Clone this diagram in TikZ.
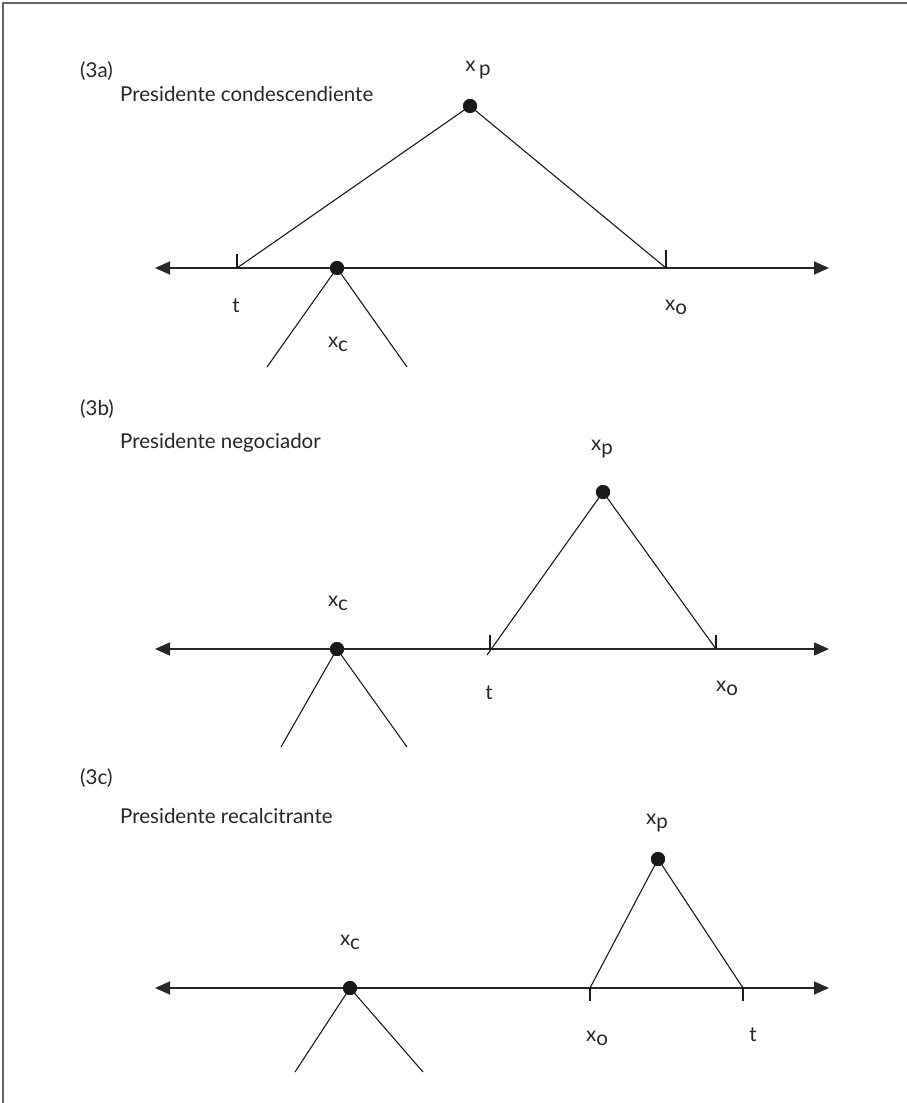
\documentclass[tikz,border=0pt]{standalone}
\usepackage{fontspec}
\setmainfont{Lato}
\usetikzlibrary{arrows.meta}
\tikzset{
  axisline/.style={line width=1.3pt, black!85, {Triangle[length=15pt,width=13pt]}-{Triangle[length=15pt,width=13pt]}},
  leg/.style={line width=1.1pt, black!90},
  tickmark/.style={line width=1.1pt, black!90},
  dot/.style={circle, fill=black!90, inner sep=0pt, minimum size=14pt},
  lbl/.style={font=\fontsize{20.5}{24}\selectfont, text=black!85, inner sep=0pt},
  frameline/.style={line width=1.3pt, black!60}
}
\newcommand{\sub}[1]{\raisebox{-0.4ex}{#1}}
\begin{document}
\begin{tikzpicture}[x=1pt,y=-1pt]
\useasboundingbox (0,0) rectangle (907,1103);
\draw[frameline] (3,1103) -- (3,3) -- (907,3);

% ---------- panel a ----------
\node[lbl, anchor=west] (la) at (80,71) {(3a)};
\node[lbl, anchor=west] (ta) at (120,94) {Presidente condescendiente};
\coordinate (aL) at (155,268);
\coordinate (aR) at (829,268);
\coordinate (at) at (237,268);
\coordinate (ao) at (666,268);
\coordinate (atT) at (237,254);
\coordinate (aoT) at (666,250);
\coordinate (acL) at (267,367);
\coordinate (acR) at (407,367);
\draw[axisline] (aL) -- (aR);
\draw[tickmark] (at) -- (atT);
\draw[tickmark] (ao) -- (aoT);
\node[dot] (ap) at (470,106) {};
\node[dot] (ac) at (337,268) {};
\draw[leg] (at) -- (ap.center) -- (ao);
\draw[leg] (acL) -- (ac.center) -- (acR);
\node[dot] at (ap) {};
\node[dot] at (ac) {};
\node[lbl] (apl) at (478,70) {x\,\sub{p}};
\node[lbl] (atl) at (236,306) {t};
\node[lbl] (aol) at (676,307) {x\sub{o}};
\node[lbl] (acl) at (338,344) {x\sub{c}};

% ---------- panel b ----------
\node[lbl, anchor=west] (lb) at (80,409) {(3b)};
\node[lbl, anchor=west] (tb) at (120,443) {Presidente negociador};
\coordinate (bL) at (155,649);
\coordinate (bR) at (829,649);
\coordinate (bt) at (490,649);
\coordinate (bt2) at (487,655);
\coordinate (bo) at (716,649);
\coordinate (btT) at (490,635);
\coordinate (boT) at (716,635);
\coordinate (bcL) at (281,747);
\coordinate (bcR) at (407,747);
\draw[axisline] (bL) -- (bR);
\draw[tickmark] (bt) -- (btT);
\draw[tickmark] (bo) -- (boT);
\node[dot] (bp) at (603,492) {};
\node[dot] (bc) at (337,649) {};
\draw[leg] (bt2) -- (bp.center) -- (bo);
\draw[leg] (bcL) -- (bc.center) -- (bcR);
\node[dot] at (bp) {};
\node[dot] at (bc) {};
\node[lbl] (bpl) at (602,449) {x\sub{p}};
\node[lbl] (bcl) at (338,603) {x\sub{c}};
\node[lbl] (btl) at (489,693) {t};
\node[lbl] (bol) at (727,688) {x\sub{o}};

% ---------- panel c ----------
\node[lbl, anchor=west] (lc) at (80,778) {(3c)};
\node[lbl, anchor=west] (tc) at (120,816) {Presidente recalcitrante};
\coordinate (cL) at (155,988);
\coordinate (cR) at (829,988);
\coordinate (co) at (590,988);
\coordinate (ct) at (743,988);
\coordinate (coT) at (590,1001);
\coordinate (ctT) at (743,1001);
\coordinate (ccL) at (295,1072);
\coordinate (ccR) at (423,1072);
\draw[axisline] (cL) -- (cR);
\draw[tickmark] (co) -- (coT);
\draw[tickmark] (ct) -- (ctT);
\node[dot] (cp) at (658,859) {};
\node[dot] (cc) at (350,988) {};
\draw[leg] (co) -- (cp.center) -- (ct);
\draw[leg] (ccL) -- (cc.center) -- (ccR);
\node[dot] at (cp) {};
\node[dot] at (cc) {};
\node[lbl] (cpl) at (657,823) {x\sub{p}};
\node[lbl] (ccl) at (350,942) {x\sub{c}};
\node[lbl] (col) at (597,1038) {x\sub{o}};
\node[lbl] (ctl) at (753,1035) {t};
\end{tikzpicture}
\end{document}
